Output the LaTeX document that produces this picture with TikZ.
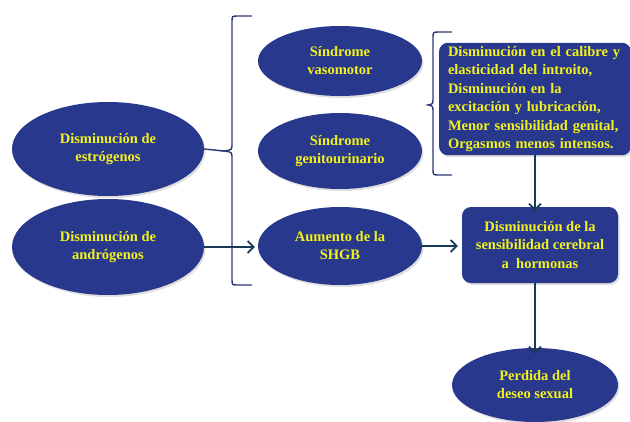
\documentclass[tikz,border=0pt]{standalone}
\usepackage{fontspec}
\setmainfont{Liberation Serif}[BoldFont={Liberation Serif Bold}]
\usetikzlibrary{shapes.geometric, arrows.meta, positioning, shadows}
\definecolor{ellblue}{RGB}{40,56,140}
\definecolor{txtyel}{RGB}{242,242,30}
\definecolor{arrcol}{RGB}{22,58,88}
\definecolor{bracecol}{RGB}{44,58,120}

\begin{document}
\begin{tikzpicture}[x=1pt, y=-1pt,
    ell/.style={ellipse, fill=ellblue, inner sep=0pt, text=txtyel, align=center,
        font=\bfseries\fontsize{14.5}{18}\selectfont,
        drop shadow={opacity=0.25, shadow xshift=1.5pt, shadow yshift=-2pt}},
    rbox/.style={rectangle, rounded corners=9pt, fill=ellblue, text=txtyel,
        font=\bfseries\fontsize{14.5}{18.5}\selectfont,
        drop shadow={opacity=0.25, shadow xshift=1.5pt, shadow yshift=-2pt}},
    arr/.style={-{Straight Barb[length=6pt, width=12pt]}, draw=arrcol, line width=1.8pt},
    brace/.style={draw=bracecol, line width=1.4pt}]
        \useasboundingbox (0,0) rectangle (630,421);

        % Nodes
        \node (estro) [ell, minimum width=192pt, minimum height=94pt] at (108,149) {Disminución de\\estrógenos};
        \node (andro) [ell, minimum width=192pt, minimum height=96pt] at (108,247) {Disminución de\\andrógenos};
        \node (vaso) [ell, minimum width=164pt, minimum height=70pt] at (340,61) {Síndrome\\vasomotor};
        \node (genito) [ell, minimum width=164pt, minimum height=76pt] at (340,151) {Síndrome\\genitourinario};
        \node (shgb) [ell, minimum width=164pt, minimum height=78pt] at (340,246) {Aumento de la\\SHGB};
        \node (efectos) [rbox, minimum width=192pt, minimum height=108pt, text width=174pt, inner xsep=9pt, align=left] at (535,99)
            {Disminución en el calibre y\\elasticidad del introito,\\Disminución en la\\excitación y lubricación,\\Menor sensibilidad genital,\\Orgasmos menos intensos.};
        \node (cerebral) [rbox, minimum width=156pt, minimum height=76pt, align=center] at (540,245)
            {Disminución de la\\sensibilidad cerebral\\a \ hormonas};
        \node (deseo) [ell, minimum width=166pt, minimum height=74pt] at (535,385) {Perdida del\\deseo sexual};

        % Braces
        \coordinate (b1tip) at (224,151);
        \draw[brace] (252,16) -- (238,16) .. controls (232,16) .. (232,22) -- (232,143)
            .. controls (232,150) .. (b1tip) .. controls (232,152) .. (232,159) -- (232,279)
            .. controls (232,285) .. (238,285) -- (252,285);
        \draw[brace] (estro.east) -- (b1tip);
        \coordinate (b2tip) at (428,105);
        \draw[brace] (452,32) -- (439,32) .. controls (433,32) .. (433,38) -- (433,98)
            .. controls (433,104) .. (b2tip) .. controls (433,106) .. (433,112) -- (433,169)
            .. controls (433,175) .. (439,175) -- (452,175);

        % Edges
        \draw[arr] (andro.east) -- ([xshift=-3pt]andro.east -| shgb.west);
        \draw[arr] (shgb.east) -- ([xshift=-4pt]cerebral.west |- shgb.east);
        \draw[arr] (efectos.south -| deseo.north) -- ([yshift=-4pt]cerebral.north -| deseo.north);
        \draw[arr] (cerebral.south -| deseo.north) -- ([yshift=-6pt]deseo.north);
    \end{tikzpicture}
\end{document}
